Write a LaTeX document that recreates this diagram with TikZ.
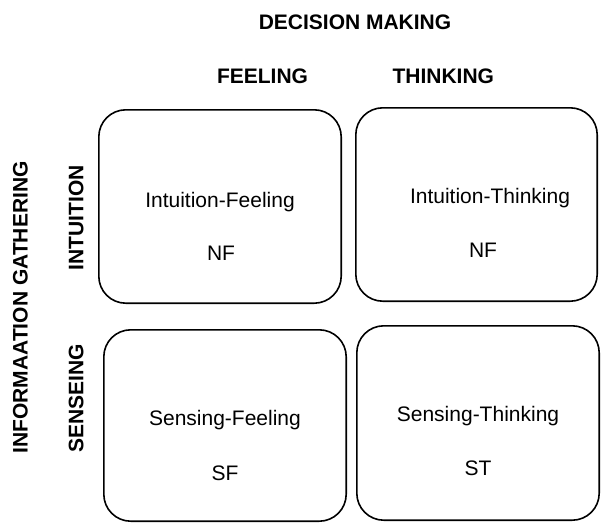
\documentclass[tikz,border=0pt]{standalone}
\usepackage{fontspec}
\setmainfont{Liberation Sans}
\begin{document}
\begin{tikzpicture}[x=1pt,y=-1pt,
  quad/.style={draw, line width=1.6pt, rounded corners=27pt, inner sep=0pt},
  lbl/.style={anchor=base, inner sep=0pt, font=\fontsize{21}{25}\selectfont},
  head/.style={anchor=base, inner sep=0pt, font=\fontsize{21}{25}\selectfont\bfseries}]
\useasboundingbox (0,0) rectangle (601,523);

% the four quadrants
\node[quad, minimum width=242.4pt, minimum height=193.4pt] (nf) at (220,206.5) {};
\node[quad, minimum width=241.4pt, minimum height=193.4pt] (nt) at (476.5,204.5) {};
\node[quad, minimum width=242.4pt, minimum height=191.4pt] (sf) at (225,425.5) {};
\node[quad, minimum width=242.4pt, minimum height=194.4pt] (st) at (478,423) {};

% quadrant labels
\node[lbl] (nfname) at (220,207.3) {Intuition-Feeling};
\node[lbl] (nfcode) at (221,260.7) {NF};
\node[lbl] (ntname) at (490,203.3) {Intuition-Thinking};
\node[lbl] (ntcode) at (483,257.3) {NF};
\node[lbl] (sfname) at (225,425.7) {Sensing-Feeling};
\node[lbl] (sfcode) at (225,480) {SF};
\node[lbl] (stname) at (478,421) {Sensing-Thinking};
\node[lbl] (stcode) at (478,475) {ST};

% column headings
\node[head] (dm) at (355,29.3) {DECISION MAKING};
\node[head] (feel) at (262.5,83.3) {FEELING};
\node[head] (think) at (443.3,83.3) {THINKING};

% row headings
\node[head, rotate=90] (ig) at (27.7,307.5) {INFORMAATION GATHERING};
\node[head, rotate=90] (intu) at (83.3,217.5) {INTUITION};
\node[head, rotate=90] (sens) at (83.3,398.7) {SENSEING};
\end{tikzpicture}
\end{document}
